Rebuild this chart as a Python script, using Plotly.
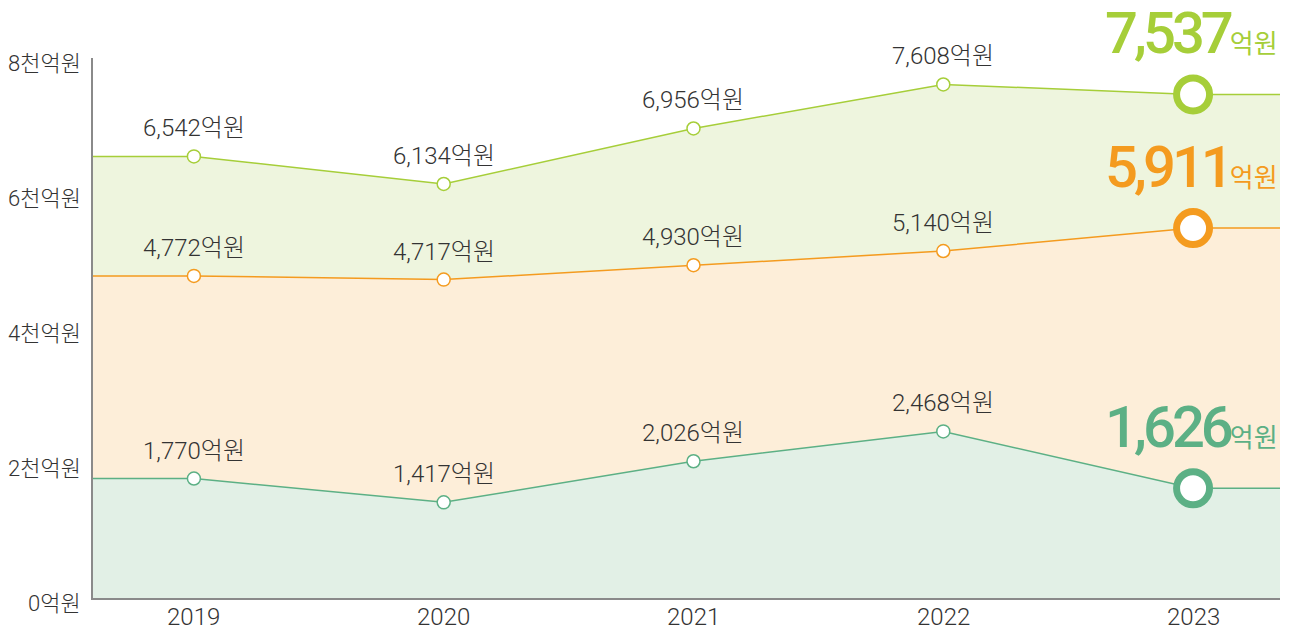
import plotly.graph_objects as go

years = [2019, 2020, 2021, 2022, 2023]
# values as positioned in the picture (억원)
top_vals = [6542, 6134, 6956, 7608, 7460]
mid_vals = [4772, 4717, 4930, 5140, 5480]
low_vals = [1770, 1417, 2026, 2468, 1626]
# value labels as printed
top_labels = ["6,542", "6,134", "6,956", "7,608", "7,537"]
mid_labels = ["4,772", "4,717", "4,930", "5,140", "5,911"]
low_labels = ["1,770", "1,417", "2,026", "2,468", "1,626"]
y_ticks = [0, 2000, 4000, 6000, 8000]
y_tick_text = ["0억원", "2천억원", "4천억원", "6천억원", "8천억원"]
x_tick_text = ["2019", "2020", "2021", "2022", "2023"]

X0, X1 = 2018.596, 2023.348

GREEN = "#a6ce39"
ORANGE = "#f49b1f"
TEAL = "#5cb085"
FILL_G = "#eef5de"
FILL_O = "#fdeed9"
FILL_T = "#e2f0e6"
TXT = "#333333"

FONT = "Roboto, 'Noto Sans CJK KR', sans-serif"

def ext(vals):
    return [X0] + years + [X1], [vals[0]] + vals + [vals[-1]]

fig = go.Figure()
series = [(low_vals, TEAL, FILL_T, "tozeroy"),
          (mid_vals, ORANGE, FILL_O, "tonexty"),
          (top_vals, GREEN, FILL_G, "tonexty")]
for vals, c, fc, fill in series:
    xs, ys = ext(vals)
    fig.add_trace(go.Scatter(x=xs, y=ys, mode="lines", fill=fill, fillcolor=fc,
                             line=dict(color=c, width=1.5), hoverinfo="skip",
                             showlegend=False))
for vals, c, fc, fill in series:
    fig.add_trace(go.Scatter(x=years[:-1], y=vals[:-1], mode="markers",
                             marker=dict(size=13, color="white", line=dict(color=c, width=1.5)),
                             showlegend=False))
    fig.add_trace(go.Scatter(x=years[-1:], y=vals[-1:], mode="markers",
                             marker=dict(size=33, color="white", line=dict(color=c, width=7)),
                             showlegend=False))

ann = []
for vals, labs, c in [(top_vals, top_labels, GREEN), (mid_vals, mid_labels, ORANGE),
                      (low_vals, low_labels, TEAL)]:
    for yr, v, lab in zip(years[:-1], vals[:-1], labs[:-1]):
        ann.append(dict(x=yr, y=v, text=lab + "억원", showarrow=False, yshift=28,
                        font=dict(family=FONT, size=24, color=TXT, weight=300)))
    ann.append(dict(x=years[-1], y=vals[-1],
                    text="<span style='letter-spacing:-4px'>" + labs[-1] + "</span>"
                         "<span style='font-size:26px;font-weight:400;letter-spacing:0px'>억원</span>",
                    showarrow=False, yshift=61, xshift=-2,
                    font=dict(family=FONT, size=58, color=c, weight=500)))

for v, t in zip(y_ticks, y_tick_text):
    ann.append(dict(xref="paper", x=0, y=v, text=t, showarrow=False,
                    xanchor="right", xshift=-10, yshift=-5,
                    font=dict(family=FONT, size=22, color=TXT, weight=300)))

for yr, t in zip(years, x_tick_text):
    ann.append(dict(x=yr, yref="paper", y=0, text=t, showarrow=False,
                    yanchor="middle", yshift=-19,
                    font=dict(family=FONT, size=24, color=TXT, weight=300)))

# page body has an 8px margin, so the figure is 8px smaller than the window
fig.update_layout(
    width=1285, height=623,
    margin=dict(l=85, r=13, t=50, b=33),
    plot_bgcolor="white", paper_bgcolor="white",
    annotations=ann,
    xaxis=dict(range=[X0, X1], showticklabels=False,
               showgrid=False, zeroline=False, showline=True, linecolor="#8a8a8a",
               linewidth=2, ticks="", automargin=False),
    yaxis=dict(range=[0, 8000], showticklabels=False,
               showgrid=False, zeroline=False, showline=True, linecolor="#8a8a8a",
               linewidth=2, ticks="", automargin=False),
)

fig.write_html("out.html")
